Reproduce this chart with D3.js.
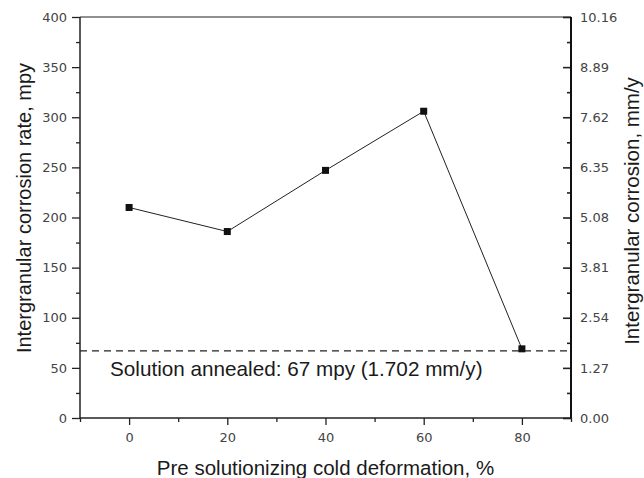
<!DOCTYPE html>
<html>
<head>
<meta charset="utf-8">
<script src="https://cdn.jsdelivr.net/npm/d3@7"></script>
<style>
body { margin: 0; background: #fff; }
svg { display: block; }
</style>
</head>
<body>
<svg id="world"></svg>
<script>
// Data
var deformation = [0, 20, 40, 60, 80];
var corrosionRate = [210, 186, 247, 306, 69];
var annealedRate = 67;
var leftTicks = [0, 50, 100, 150, 200, 250, 300, 350, 400];
var rightTicks = [0, 1.27, 2.54, 3.81, 5.08, 6.35, 7.62, 8.89, 10.16];
var bottomTicks = [0, 20, 40, 60, 80];
var annotation = "Solution annealed: 67 mpy (1.702 mm/y)";

var width = 644, height = 478;
var svg = d3.select("#world").attr("width", width).attr("height", height);

// plot box (window.top is reserved, so use px* names)
var pxL = 80, pxR = 571, pxT = 17, pxB = 418;
var x = d3.scaleLinear().domain([-10, 90]).range([pxL, pxR]);
var y = d3.scaleLinear().domain([0, 400]).range([pxB, pxT]);
var y2 = d3.scaleLinear().domain([0, 10.16]).range([pxB, pxT]);

var tickFont = "'DejaVu Sans', sans-serif";
var titleFont = "'Liberation Sans', Arial, sans-serif";

function styleAxis(g, w) {
    g.select(".domain").remove();
    g.selectAll("line").attr("stroke", "#222").attr("stroke-width", w);
    g.selectAll("text").attr("font-family", tickFont).attr("font-size", "13px").attr("fill", "#444");
}

// left axis
var gl = svg.append("g").attr("transform", "translate(" + pxL + ",0)");
gl.call(d3.axisLeft(y).tickValues(leftTicks).tickSize(8).tickPadding(5).tickFormat(d3.format("d")));
styleAxis(gl, 1.3);
var glm = svg.append("g").attr("transform", "translate(" + pxL + ",0)");
glm.call(d3.axisLeft(y).tickValues(d3.range(25, 400, 50)).tickSize(4).tickFormat(""));
styleAxis(glm, 1.3);

// right axis, ticks pointing in
var gr = svg.append("g").attr("transform", "translate(" + pxR + ",0)");
gr.call(d3.axisRight(y2).tickValues(rightTicks).tickSize(-8).tickPadding(9).tickFormat(d3.format(".2f")));
styleAxis(gr, 1.6);
var grm = svg.append("g").attr("transform", "translate(" + pxR + ",0)");
grm.call(d3.axisRight(y2).tickValues(rightTicks.slice(1).map(function(d) { return d - 0.635; })).tickSize(-4).tickFormat(""));
styleAxis(grm, 1.6);

// bottom axis
var gb = svg.append("g").attr("transform", "translate(0," + pxB + ")");
gb.call(d3.axisBottom(x).tickValues(bottomTicks).tickSize(7).tickPadding(8).tickFormat(d3.format("d")));
styleAxis(gb, 1.3);
var gbm = svg.append("g").attr("transform", "translate(0," + pxB + ")");
gbm.call(d3.axisBottom(x).tickValues([-10, 10, 30, 50, 70, 90]).tickSize(4).tickFormat(""));
styleAxis(gbm, 1.3);

// frame
svg.append("line").attr("x1", pxL).attr("x2", pxR).attr("y1", pxT).attr("y2", pxT)
    .attr("stroke", "#222").attr("stroke-width", 1.2);
svg.append("line").attr("x1", pxL).attr("x2", pxR).attr("y1", pxB).attr("y2", pxB)
    .attr("stroke", "#222").attr("stroke-width", 1.5);
svg.append("line").attr("x1", pxL).attr("x2", pxL).attr("y1", pxT).attr("y2", pxB)
    .attr("stroke", "#222").attr("stroke-width", 1.5);
svg.append("line").attr("x1", pxR).attr("x2", pxR).attr("y1", pxT).attr("y2", pxB)
    .attr("stroke", "#111").attr("stroke-width", 2);

// solution annealed reference
svg.append("line").attr("x1", pxL).attr("x2", pxR)
    .attr("y1", y(annealedRate)).attr("y2", y(annealedRate))
    .attr("stroke", "#222").attr("stroke-width", 1.2).attr("stroke-dasharray", "7,5");
svg.append("text").attr("x", 110).attr("y", y(annealedRate) + 25)
    .attr("font-family", titleFont).attr("font-size", "20.7px").attr("fill", "#1a1a1a")
    .text(annotation);

// series
var pts = deformation.map(function(d, i) { return [d, corrosionRate[i]]; });
svg.append("path").datum(pts)
    .attr("fill", "none").attr("stroke", "#222").attr("stroke-width", 1)
    .attr("d", d3.line().x(function(d) { return x(d[0]); }).y(function(d) { return y(d[1]); }));
svg.selectAll("rect.pt").data(pts).enter().append("rect").attr("class", "pt")
    .attr("x", function(d) { return x(d[0]) - 3.5; })
    .attr("y", function(d) { return y(d[1]) - 3.5; })
    .attr("width", 7).attr("height", 7).attr("fill", "#111");

// titles
svg.append("text").attr("x", (pxL + pxR) / 2).attr("y", 475).attr("text-anchor", "middle")
    .attr("font-family", titleFont).attr("font-size", "20.5px").attr("fill", "#1a1a1a")
    .text("Pre solutionizing cold deformation, %");
svg.append("text").attr("transform", "translate(31,208) rotate(-90)").attr("text-anchor", "middle")
    .attr("font-family", titleFont).attr("font-size", "20px").attr("fill", "#1a1a1a")
    .text("Intergranular corrosion rate, mpy");
svg.append("text").attr("transform", "translate(639,211) rotate(-90)").attr("text-anchor", "middle")
    .attr("font-family", titleFont).attr("font-size", "20.5px").attr("fill", "#1a1a1a")
    .text("Intergranular corrosion, mm/y");
</script>
</body>
</html>
